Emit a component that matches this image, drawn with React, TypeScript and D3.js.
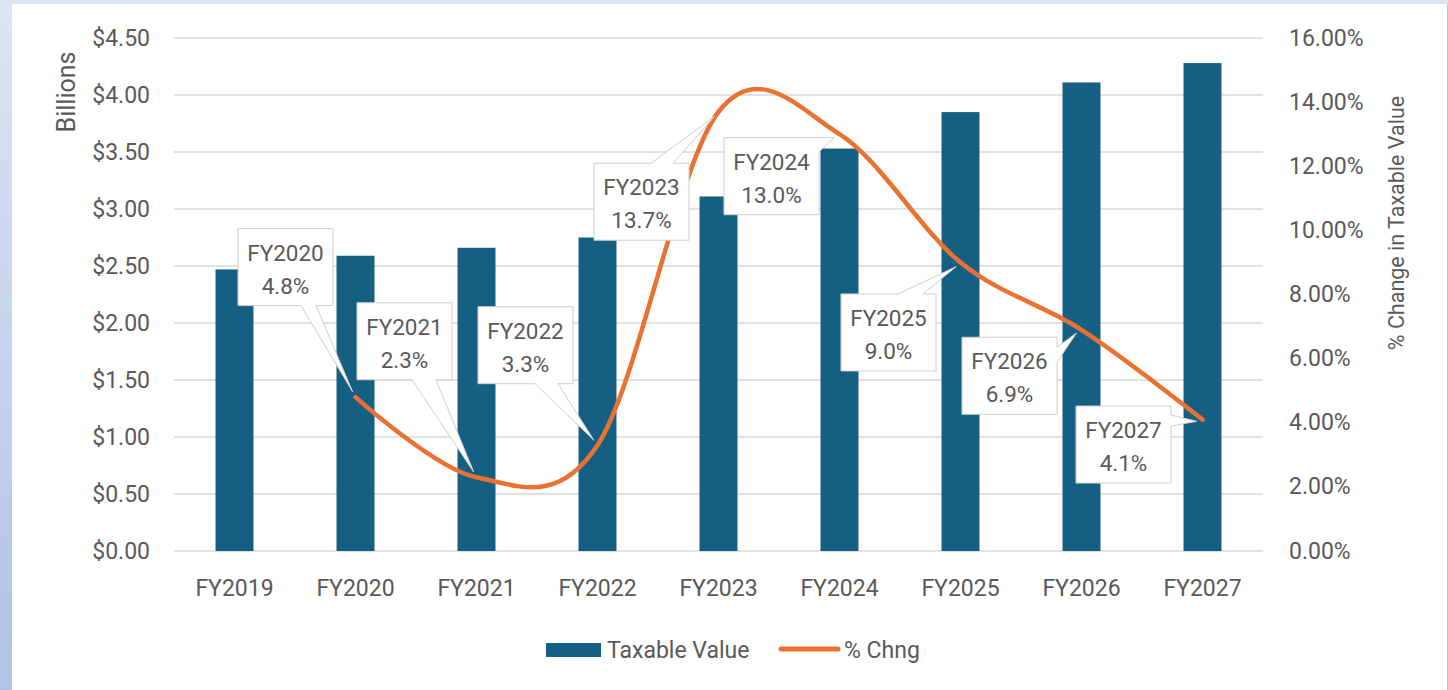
import React from "react";
import * as d3 from "d3";

// Fiscal years on the category axis
const years = ["FY2019", "FY2020", "FY2021", "FY2022", "FY2023", "FY2024", "FY2025", "FY2026", "FY2027"];
// Taxable value, billions of dollars
const taxableValue = [2.47, 2.59, 2.66, 2.75, 3.11, 3.53, 3.85, 4.11, 4.28];
// Year-over-year change in taxable value (no change shown for the first year)
const pctChange: (number | null)[] = [null, 0.048, 0.023, 0.033, 0.137, 0.13, 0.09, 0.069, 0.041];
// Axis ticks
const leftTicks = [0, 0.5, 1, 1.5, 2, 2.5, 3, 3.5, 4, 4.5];
const rightTicks = [0, 0.02, 0.04, 0.06, 0.08, 0.1, 0.12, 0.14, 0.16];

// Callout placement for each labelled point: box centre offset from the point,
// the box side the pointer leaves from and the span of its base along that side.
type Side = "top" | "bottom" | "right";
const callouts: { dx: number; dy: number; side: Side; a: number; b: number }[] = [
  { dx: 0, dy: 0, side: "bottom", a: 0, b: 0 },
  { dx: -70, dy: -130, side: "bottom", a: 63, b: 78 },
  { dx: -72, dy: -136, side: "bottom", a: 55, b: 79 },
  { dx: -72, dy: -100, side: "bottom", a: 57, b: 80 },
  { dx: -77, dy: 90, side: "top", a: 57, b: 79 },
  { dx: -68, dy: 42, side: "right", a: 0, b: 14 },
  { dx: -72, dy: 70, side: "top", a: 57, b: 82 },
  { dx: -72, dy: 46, side: "right", a: 10, b: 25 },
  { dx: -79, dy: 25, side: "right", a: 9, b: 20 },
];

const W = 1448;
const H = 690;
const BAR = "#156082";
const LINE = "#E97132";
const TEXT = "#595959";
const GRID = "#D9D9D9";
const FONT = "Roboto, 'Liberation Sans', sans-serif";

const plot = { left: 174, right: 1263, top: 38, bottom: 551 };

const x = d3
  .scaleBand<string>()
  .domain(years)
  .range([plot.left, plot.right])
  .paddingInner(0.686)
  .paddingOuter(0.343);
const yL = d3.scaleLinear().domain([0, 4.5]).range([plot.bottom, plot.top]);
const yR = d3.scaleLinear().domain([0, 0.16]).range([plot.bottom, plot.top]);
const cx = (d: string) => (x(d) ?? 0) + x.bandwidth() / 2;

const money = d3.format("$.2f");
const pct2 = d3.format(".2%");
const pct1 = d3.format(".1%");

const linePath = d3
  .line<number | null>()
  .defined((d) => d != null)
  .x((_, i) => cx(years[i]))
  .y((d) => yR(d as number))
  .curve(d3.curveCatmullRom.alpha(0))(pctChange) ?? "";

const BOX_W = 95;
const BOX_H = 77;

function calloutPath(L: number, T: number, side: Side, a: number, b: number, tx: number, ty: number) {
  const R = L + BOX_W;
  const B = T + BOX_H;
  const p = d3.path();
  p.moveTo(L, T);
  if (side === "top") {
    p.lineTo(L + a, T);
    p.lineTo(tx, ty);
    p.lineTo(L + b, T);
  }
  p.lineTo(R, T);
  if (side === "right") {
    p.lineTo(R, T + a);
    p.lineTo(tx, ty);
    p.lineTo(R, T + b);
  }
  p.lineTo(R, B);
  if (side === "bottom") {
    p.lineTo(L + b, B);
    p.lineTo(tx, ty);
    p.lineTo(L + a, B);
  }
  p.lineTo(L, B);
  p.closePath();
  return p.toString();
}

export default function App() {
  return (
    <div style={{ position: "absolute", left: 0, top: 0, width: W, height: H }}>
      <svg width={W} height={H} style={{ display: "block", fontFamily: FONT }}>
        <defs>
          <linearGradient id="edge" x1="0" y1="0" x2="0" y2="1">
            <stop offset="0" stopColor="#DCE4F4" />
            <stop offset="1" stopColor="#AFC3E6" />
          </linearGradient>
        </defs>
        <rect x={0} y={0} width={W} height={H} fill="#DCE3F4" />
        <rect x={0} y={0} width={12} height={H} fill="url(#edge)" />
        <rect x={12} y={4} width={W - 13} height={H - 4} fill="#FFFFFF" />
        <line x1={W - 0.5} x2={W - 0.5} y1={4} y2={H} stroke="#B4C6E7" strokeWidth={1} />

        {/* gridlines */}
        {leftTicks.map((t) => (
          <line key={t} x1={plot.left} x2={plot.right} y1={yL(t)} y2={yL(t)} stroke={GRID} strokeWidth={1.5} />
        ))}

        {/* left axis */}
        {leftTicks.map((t) => (
          <text key={t} x={150} y={yL(t)} textAnchor="end" dominantBaseline="central" fontSize={23} fill={TEXT}>
            {money(t)}
          </text>
        ))}
        <text
          transform={`translate(66,92) rotate(-90)`}
          textAnchor="middle"
          dominantBaseline="central"
          fontSize={25}
          fill={TEXT}
        >
          Billions
        </text>

        {/* right axis */}
        {rightTicks.map((t) => (
          <text key={t} x={1289} y={yR(t)} textAnchor="start" dominantBaseline="central" fontSize={23} fill={TEXT}>
            {pct2(t)}
          </text>
        ))}
        <text
          transform={`translate(1396,223) rotate(-90)`}
          textAnchor="middle"
          dominantBaseline="central"
          fontSize={21.5}
          fill={TEXT}
        >
          % Change in Taxable Value
        </text>

        {/* category labels */}
        {years.map((d) => (
          <text key={d} x={cx(d)} y={588} textAnchor="middle" dominantBaseline="central" fontSize={23} fill={TEXT}>
            {d}
          </text>
        ))}

        {/* bars */}
        {years.map((d, i) => (
          <rect
            key={d}
            x={x(d)}
            y={yL(taxableValue[i])}
            width={x.bandwidth()}
            height={yL(0) - yL(taxableValue[i])}
            fill={BAR}
          />
        ))}

        {/* % change line */}
        <path d={linePath} fill="none" stroke={LINE} strokeWidth={4.5} strokeLinecap="round" strokeLinejoin="round" />

        {/* callouts */}
        {years.map((d, i) => {
          const v = pctChange[i];
          if (v == null) return null;
          const c = callouts[i];
          const px = cx(d);
          const py = yR(v);
          const bcx = px + c.dx;
          const bcy = py + c.dy;
          const L = bcx - BOX_W / 2;
          const T = bcy - BOX_H / 2;
          const len = Math.hypot(c.dx, c.dy);
          const tx = px + (c.dx / len) * 6;
          const ty = py + (c.dy / len) * 6;
          return (
            <g key={d}>
              <path d={calloutPath(L, T, c.side, c.a, c.b, tx, ty)} fill="#FFFFFF" stroke="#D0D0D0" strokeWidth={1} />
              <text x={bcx} y={T + 24} textAnchor="middle" dominantBaseline="central" fontSize={22.5} fill={TEXT}>
                {d}
              </text>
              <text x={bcx} y={T + 57} textAnchor="middle" dominantBaseline="central" fontSize={22.5} fill={TEXT}>
                {pct1(v)}
              </text>
            </g>
          );
        })}

        {/* legend */}
        <rect x={546} y={643} width={55} height={14} fill={BAR} />
        <text x={607} y={650} dominantBaseline="central" fontSize={23} fill={TEXT}>
          Taxable Value
        </text>
        <line x1={781} x2={838} y1={649} y2={649} stroke={LINE} strokeWidth={5} strokeLinecap="round" />
        <text x={844} y={650} dominantBaseline="central" fontSize={23} fill={TEXT}>
          % Chng
        </text>
      </svg>
    </div>
  );
}
